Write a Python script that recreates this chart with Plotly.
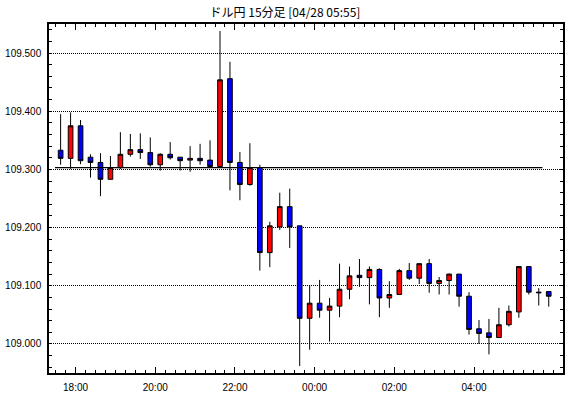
import plotly.graph_objects as go
import pandas as pd

title_text = "ドル円 15分足 [04/28 05:55]"

bar_times = [
    "2021-04-27 17:30", "2021-04-27 17:45", "2021-04-27 18:00", "2021-04-27 18:15",
    "2021-04-27 18:30", "2021-04-27 18:45", "2021-04-27 19:00", "2021-04-27 19:15",
    "2021-04-27 19:30", "2021-04-27 19:45", "2021-04-27 20:00", "2021-04-27 20:15",
    "2021-04-27 20:30", "2021-04-27 20:45", "2021-04-27 21:00", "2021-04-27 21:15",
    "2021-04-27 21:30", "2021-04-27 21:45", "2021-04-27 22:00", "2021-04-27 22:15",
    "2021-04-27 22:30", "2021-04-27 22:45", "2021-04-27 23:00", "2021-04-27 23:15",
    "2021-04-27 23:30", "2021-04-27 23:45", "2021-04-28 00:00", "2021-04-28 00:15",
    "2021-04-28 00:30", "2021-04-28 00:45", "2021-04-28 01:00", "2021-04-28 01:15",
    "2021-04-28 01:30", "2021-04-28 01:45", "2021-04-28 02:00", "2021-04-28 02:15",
    "2021-04-28 02:30", "2021-04-28 02:45", "2021-04-28 03:00", "2021-04-28 03:15",
    "2021-04-28 03:30", "2021-04-28 03:45", "2021-04-28 04:00", "2021-04-28 04:15",
    "2021-04-28 04:30", "2021-04-28 04:45", "2021-04-28 05:00", "2021-04-28 05:15",
    "2021-04-28 05:30", "2021-04-28 05:45",
]

opens = [109.333, 109.319, 109.375, 109.321, 109.312, 109.283, 109.303, 109.326, 109.334, 109.329,
         109.308, 109.326, 109.321, 109.316, 109.319, 109.316, 109.305, 109.456, 109.312, 109.274,
         109.303, 109.157, 109.201, 109.236, 109.203, 109.044, 109.070, 109.058, 109.065, 109.094,
         109.118, 109.114, 109.128, 109.079, 109.085, 109.126, 109.113, 109.138, 109.104, 109.109,
         109.120, 109.082, 109.026, 109.019, 109.011, 109.033, 109.055, 109.133, 109.089, 109.090]
highs = [109.395, 109.398, 109.385, 109.326, 109.328, 109.323, 109.364, 109.361, 109.362, 109.355,
         109.328, 109.347, 109.321, 109.340, 109.344, 109.350, 109.538, 109.485, 109.330, 109.345,
         109.308, 109.210, 109.260, 109.267, 109.203, 109.101, 109.110, 109.079, 109.138, 109.133,
         109.146, 109.133, 109.130, 109.108, 109.129, 109.139, 109.138, 109.146, 109.115, 109.121,
         109.120, 109.089, 109.041, 109.043, 109.062, 109.066, 109.133, 109.133, 109.096, 109.090]
lows = [109.308, 109.301, 109.309, 109.286, 109.254, 109.283, 109.301, 109.322, 109.318, 109.305,
        109.298, 109.317, 109.298, 109.296, 109.308, 109.305, 109.305, 109.264, 109.247, 109.272,
        109.126, 109.132, 109.196, 109.165, 108.962, 108.990, 109.045, 109.004, 109.046, 109.077,
        109.098, 109.068, 109.046, 109.062, 109.085, 109.110, 109.103, 109.088, 109.085, 109.085,
        109.064, 109.016, 109.000, 108.982, 109.011, 109.030, 109.045, 109.085, 109.066, 109.064]
closes = [109.319, 109.375, 109.315, 109.312, 109.283, 109.303, 109.326, 109.334, 109.329, 109.308,
          109.326, 109.320, 109.315, 109.319, 109.315, 109.305, 109.454, 109.312, 109.274, 109.303,
          109.157, 109.203, 109.236, 109.201, 109.044, 109.070, 109.058, 109.065, 109.094, 109.117,
          109.114, 109.128, 109.079, 109.085, 109.126, 109.113, 109.138, 109.104, 109.109, 109.120,
          109.082, 109.025, 109.018, 109.011, 109.033, 109.056, 109.133, 109.089, 109.088, 109.082]

x_tick_times = ["2021-04-27 18:00", "2021-04-27 20:00", "2021-04-27 22:00",
                "2021-04-28 00:00", "2021-04-28 02:00", "2021-04-28 04:00"]
x_tick_labels = ["18:00", "20:00", "22:00", "00:00", "02:00", "04:00"]

ref_price = 109.303
ref_start = "2021-04-27 17:29"
ref_end = "2021-04-28 05:43"

# candles are centred in their 15-minute interval
x_centers = pd.to_datetime(bar_times) + pd.Timedelta(minutes=7.5)

fig = go.Figure()
fig.add_trace(go.Candlestick(
    x=x_centers, open=opens, high=highs, low=lows, close=closes,
    increasing=dict(fillcolor="#ff0000", line=dict(color="#000000", width=1)),
    decreasing=dict(fillcolor="#0000ff", line=dict(color="#000000", width=1)),
    whiskerwidth=0, hoverinfo="skip",
))

fig.add_shape(type="line", xref="x", yref="y", x0=ref_start, x1=ref_end,
              y0=ref_price, y1=ref_price, line=dict(color="#000000", width=1.2))

tickfont = dict(family="Liberation Sans, Arial, sans-serif", size=10, color="#000000")

fig.update_layout(
    width=570, height=398,
    margin=dict(l=49, r=5, t=24, b=23),
    paper_bgcolor="#ffffff", plot_bgcolor="#ffffff",
    showlegend=False,
    boxgap=0.33,
    title=dict(text=title_text, x=0.5, xref="container", xanchor="center",
               y=1 - 13 / 398, yref="container", yanchor="middle",
               font=dict(family="Noto Sans CJK JP", size=12, color="#000000")),
    xaxis=dict(
        type="date",
        range=["2021-04-27 17:20", "2021-04-28 06:14"],
        rangeslider=dict(visible=False),
        showline=True, linecolor="#000000", linewidth=1.5, mirror="allticks",
        ticks="inside", ticklen=6, tickcolor="#000000", tickwidth=1,
        tickmode="array", tickvals=x_tick_times, ticktext=x_tick_labels,
        minor=dict(dtick=15 * 60 * 1000, tick0="2021-04-27 18:00", ticks="inside",
                   ticklen=3, tickcolor="#000000", showgrid=False),
        showgrid=False, zeroline=False,
        tickfont=tickfont, ticklabelstandoff=4,
    ),
    yaxis=dict(
        range=[108.95, 109.55],
        showline=True, linecolor="#000000", linewidth=1.5, mirror="allticks",
        ticks="inside", ticklen=3, tickcolor="#000000",
        tick0=109.0, dtick=0.1, tickformat=".3f",
        minor=dict(dtick=0.02, tick0=109.0, ticks="inside", ticklen=3,
                   tickcolor="#000000", showgrid=False),
        showgrid=True, gridcolor="#000000", gridwidth=1, griddash="1px,1px",
        zeroline=False, tickfont=tickfont, ticklabelstandoff=4,
    ),
)

fig.write_html("out.html", config={"displayModeBar": False},
               post_script="document.body.style.margin='0';")
